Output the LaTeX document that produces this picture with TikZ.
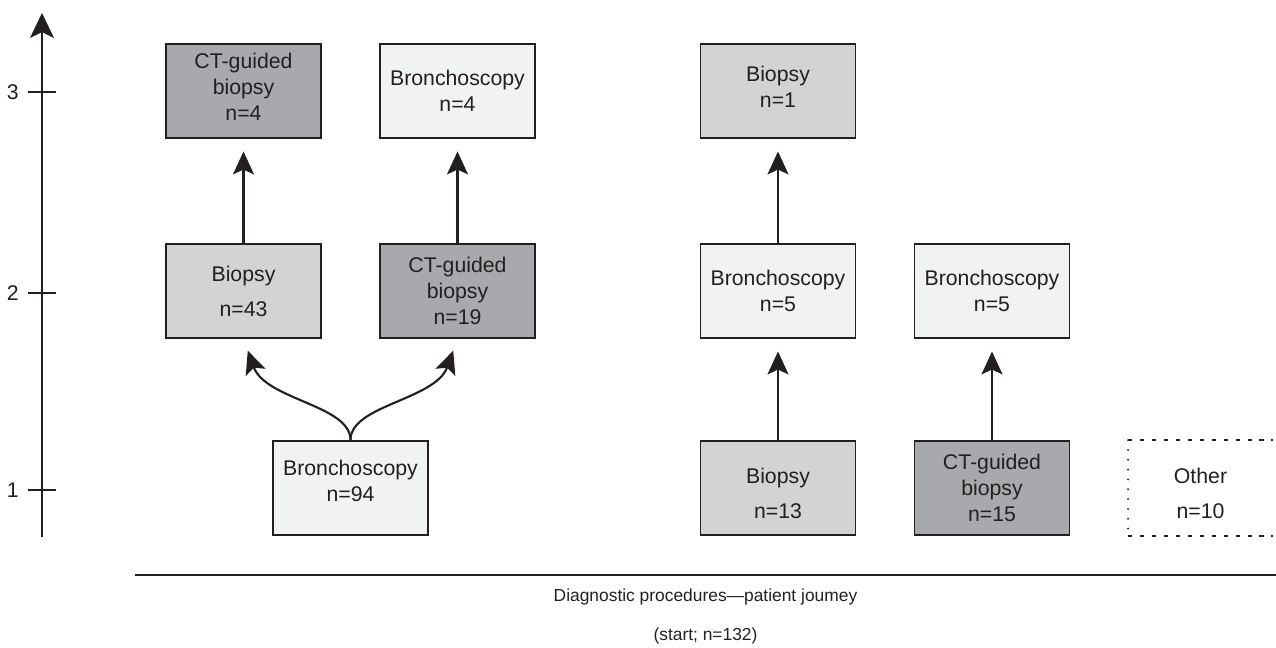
\documentclass[tikz,border=0pt]{standalone}
\usepackage{fontspec}
\setmainfont{Liberation Sans}
\usetikzlibrary{arrows.meta,positioning}
\definecolor{ink}{RGB}{35,31,32}
\definecolor{darkfill}{RGB}{167,169,172}
\definecolor{midfill}{RGB}{209,211,212}
\definecolor{palefill}{RGB}{241,242,242}

\tikzset{
  proc/.style={rectangle, draw=ink, line width=1.1pt, minimum width=3.1cm, minimum height=1.88cm,
    align=center, inner sep=0pt, text=ink, font=\fontsize{12.1}{14.8}\selectfont},
  ctbox/.style={proc, fill=darkfill},
  biopbox/.style={proc, fill=midfill},
  bronbox/.style={proc, fill=palefill},
  flow/.style={draw=ink, line width=1.2pt, -{Stealth[length=0.46cm,width=0.42cm,inset=0.1cm]}, shorten >=0.25cm},
}

\begin{document}
\begin{tikzpicture}[x=0.02cm, y=-0.02cm]
\useasboundingbox (0,0) rectangle (1276,647);
% level axis
\coordinate (axbot) at (42,537);
\coordinate (axtop) at (42,13);
\draw[ink, line width=1.1pt, -{Stealth[length=0.5cm,width=0.48cm,inset=0.12cm]}] (axbot) -- (axtop);
\foreach \lvl/\y in {1/490,2/293,3/92} {
  \draw[ink, line width=0.8pt] (28,\y) -- (56,\y);
  \node[text=ink, font=\fontsize{12.1}{14}\selectfont, anchor=east] (lvl\lvl) at (25,\y) {\lvl};
}
% third procedure
\node[ctbox, text depth=4.5pt] (ct4) at (243.5,91) {CT-guided\\biopsy\\n=4};
\node[bronbox] (bron4) at (457.5,91) {Bronchoscopy\\n=4};
\node[biopbox, text depth=4.5pt] (biop1) at (778,91) {Biopsy\\n=1};
% second procedure
\node[biopbox] (biop43) at (243.5,291) {Biopsy\\[5pt]n=43};
\node[ctbox] (ct19) at (457.5,291) {CT-guided\\biopsy\\n=19};
\node[bronbox] (bron5a) at (778,291) {Bronchoscopy\\n=5};
\node[bronbox] (bron5b) at (992,291) {Bronchoscopy\\n=5};
% first procedure
\node[bronbox, text depth=8pt] (bron94) at (350.5,488) {Bronchoscopy\\n=94};
\node[biopbox, text height=35pt] (biop13) at (778,488) {Biopsy\\[5pt]n=13};
\node[ctbox] (ct15) at (992,488) {CT-guided\\biopsy\\n=15};
\node[proc, draw=none, minimum width=2.86cm, text height=35pt] (other) at (1200.5,488) {Other\\[5pt]n=10};
\draw[ink, line width=0.9pt, dash pattern=on 2.3pt off 4.5pt] (other.north west) -- (other.north east);
\draw[ink, line width=0.9pt, dash pattern=on 2.3pt off 4.5pt] (other.south west) -- (other.south east);
\draw[ink, line width=1.2pt, line cap=round, dash pattern=on 0pt off 5.6pt] (other.north west) -- (other.south west);
% journeys
\draw[flow] (bron94.north) to[out=90, in=-70, out distance=0.7cm, in distance=1.3cm] (biop43.south);
\draw[flow] (bron94.north) to[out=90, in=-110, out distance=0.7cm, in distance=1.3cm] (ct19.south);
\draw[flow] (biop43.north) -- (ct4.south);
\draw[flow] (ct19.north) -- (bron4.south);
\draw[flow] (biop13.north) -- (bron5a.south);
\draw[flow] (bron5a.north) -- (biop1.south);
\draw[flow] (ct15.north) -- (bron5b.south);
% caption
\draw[ink, line width=0.6pt] (135,575) -- (1276,575);
\node[text=ink, font=\fontsize{9.9}{12}\selectfont] (title) at (705.5,597) {Diagnostic procedures—patient joumey};
\node[text=ink, font=\fontsize{9.9}{12}\selectfont] (start) at (705.5,636) {(start; n=132)};
\end{tikzpicture}
\end{document}
